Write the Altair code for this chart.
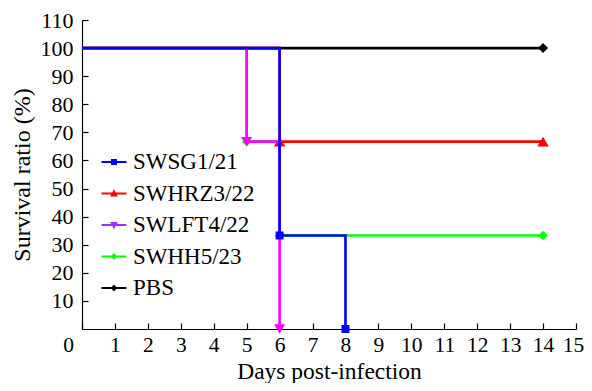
import altair as alt
import pandas as pd

# ---- data ----
series_names = ["SWSG1/21", "SWHRZ3/22", "SWLFT4/22", "SWHH5/23", "PBS"]

sg_days = [0, 6, 8]
sg_surv = [100, 33.3, 0]

hrz_days = [0, 6, 14]
hrz_surv = [100, 66.7, 66.7]

lft_days = [0, 5, 6]
lft_surv = [100, 66.7, 0]

hh_days = [0, 5, 6, 14]
hh_surv = [100, 66.7, 33.3, 33.3]

pbs_days = [0, 14]
pbs_surv = [100, 100]

x_ticks = list(range(0, 16))
y_ticks = list(range(10, 111, 10))

# ---- styles ----
line_colors = {"SWSG1/21": "#0000ff", "SWHRZ3/22": "#ff0000", "SWLFT4/22": "#ff00ff",
               "SWHH5/23": "#00ff00", "PBS": "#000000"}
legend_colors = ["#0000ff", "#ff0000", "#9933ff", "#00ff00", "#000000"]
marker_shapes = {"SWSG1/21": "square", "SWHRZ3/22": "triangle-up", "SWLFT4/22": "triangle-down",
                 "SWHH5/23": "diamond", "PBS": "diamond"}
marker_sizes = {"SWSG1/21": 64, "SWHRZ3/22": 130, "SWLFT4/22": 120, "SWHH5/23": 90, "PBS": 100}

bar = "M-0.96,-0.08H0.96V0.08H-0.96Z"
legend_paths = [
    bar + "M-0.23,-0.23H0.23V0.23H-0.23Z",
    bar + "M0,-0.32L0.3,0.24H-0.3Z",
    bar + "M0,0.32L-0.3,-0.24H0.3Z",
    bar + "M0,-0.26L0.26,0L0,0.26L-0.26,0Z",
    bar + "M0,-0.26L0.26,0L0,0.26L-0.26,0Z",
]

FONT = "Liberation Serif"

X = alt.X("day:Q", scale=alt.Scale(domain=[0, 15], nice=False, zero=False),
          axis=alt.Axis(values=x_ticks, title="Days post-infection", grid=False,
                        labelOffset={"condition": [{"test": "datum.value == 0", "value": -14},
                                                   {"test": "datum.value == 15", "value": -3}],
                                     "value": 0},
                        tickSize={"expr": "-6"}, labelPadding=11, labelFlush=False,
                        labelOverlap=False, labelFontSize=21.5, titleFontSize=23.5,
                        titleBaseline="alphabetic", titleY=49))
Y = alt.Y("survival:Q", scale=alt.Scale(domain=[0, 110], nice=False),
          axis=alt.Axis(values=y_ticks, title="Survival ratio (%)", grid=False,
                        tickSize={"expr": "-6"}, labelPadding=15, labelFlush=False,
                        labelOverlap=False, labelFontSize=22, titleFontSize=24,
                        titlePadding=6))

data_map = {
    "SWSG1/21": (sg_days, sg_surv),
    "SWHRZ3/22": (hrz_days, hrz_surv),
    "SWLFT4/22": (lft_days, lft_surv),
    "SWHH5/23": (hh_days, hh_surv),
    "PBS": (pbs_days, pbs_surv),
}
draw_order = ["PBS", "SWHRZ3/22", "SWHH5/23", "SWLFT4/22", "SWSG1/21"]

layers = []
for name in draw_order:
    d, s = data_map[name]
    df = pd.DataFrame({"series": name, "day": d, "survival": s})
    base = alt.Chart(df)
    layers.append(base.mark_line(interpolate="step-after", color=line_colors[name],
                                 strokeWidth=2.6).encode(x=X, y=Y, order="day:Q"))
    layers.append(base.transform_filter("datum.day > 0").mark_point(
        shape=marker_shapes[name], filled=True, size=marker_sizes[name],
        color=line_colors[name], opacity=1).encode(x=X, y=Y))

legend = alt.Legend(title=None, orient="none", legendX=19, legendY=129, padding=0,
                    symbolSize=676, symbolStrokeWidth=0, symbolOpacity=1,
                    labelFont=FONT, labelFontSize=23, labelColor="black",
                    labelOffset=6, rowPadding=6.5, labelLimit=300)
legend_df = pd.DataFrame({"series": series_names})
legend_layer = alt.Chart(legend_df).transform_filter("false").mark_point(
    filled=True, size=676, opacity=1, strokeWidth=0).encode(
    color=alt.Color("series:N", scale=alt.Scale(domain=series_names, range=legend_colors),
                    legend=legend),
    shape=alt.Shape("series:N", scale=alt.Scale(domain=series_names, range=legend_paths),
                    legend=legend),
)
layers.append(legend_layer)

chart = alt.layer(*layers).properties(
    width=494, height=309,
    autosize=alt.AutoSizeParams(type="none"),
    padding={"left": 74, "top": 12, "right": 8, "bottom": 54},
).configure_view(stroke=None).configure_axis(
    labelFont=FONT, titleFont=FONT, labelColor="black", titleColor="black",
    domainColor="black", tickColor="black", domainWidth=1.2, tickWidth=1.2,
    titleFontWeight="normal",
)

chart.save("out.html", embed_options={"renderer": "svg", "actions": False})
